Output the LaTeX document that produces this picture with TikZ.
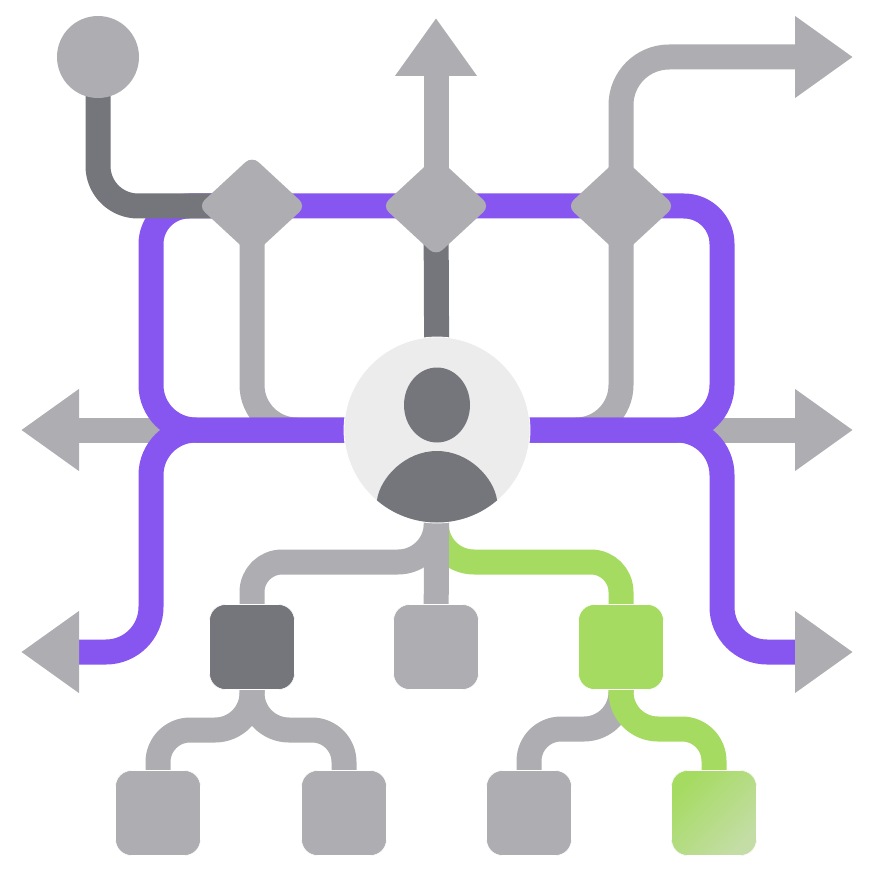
\documentclass[tikz,border=0pt]{standalone}
\usetikzlibrary{arrows.meta,backgrounds,shapes.geometric}
\definecolor{linegrey}{HTML}{AEAEB2}
\definecolor{linedark}{HTML}{75767C}
\definecolor{linepurple}{HTML}{8756F0}
\definecolor{linegreen}{HTML}{A5DB61}
\definecolor{fadegreen}{HTML}{C4DDA6}
\definecolor{hubgrey}{HTML}{ECECEC}
\tikzset{
  pipe/.style={line width=25pt,line join=round,rounded corners=#1},
  pipe/.default=45pt,
  tip/.style={-{Triangle[length=58pt,width=78pt]}},
  gatebox/.style={diamond,fill=linegrey,rounded corners=9pt,minimum width=108pt,minimum height=100pt,inner sep=0},
  leafbox/.style={rectangle,fill=linegrey,draw=white,line width=0.6pt,rounded corners=16pt,minimum size=85pt,inner sep=0},
}
\begin{document}
\begin{tikzpicture}[x=1pt,y=-1pt]
\useasboundingbox (0,0) rectangle (874,874);
\node[circle,fill=hubgrey,draw=white,line width=0.8pt,minimum size=186pt,inner sep=0] (hub) at (437,430) {};
\node[circle,fill=linegrey,minimum size=82pt,inner sep=0] (start) at (98,57) {};
\node[gatebox] (gatea) at (252,206) {};
\node[gatebox] (gateb) at (436,206) {};
\node[gatebox] (gatec) at (621,206) {};
\node[leafbox,fill=linedark] (boxa) at (252,647) {};
\node[leafbox] (boxb) at (436,647) {};
\node[leafbox,fill=linegreen] (boxc) at (621,647) {};
\node[leafbox] (leafa) at (158,813) {};
\node[leafbox] (leafb) at (344,813) {};
\node[leafbox] (leafc) at (529,813) {};
\node[leafbox,left color=linegreen,middle color=linegreen,right color=fadegreen,shading angle=45] (leafd) at (714,813) {};
\coordinate (midl) at (151,300);
\coordinate (midr) at (722,300);
\coordinate (lowl) at (151,652);
\coordinate (lowr) at (722,652);
\coordinate (tipll) at (21,652);
\coordinate (baseall) at (79,652);
\coordinate (tiplr) at (853,652);
\coordinate (baselr) at (795,652);
\coordinate (tipl) at (21,430);
\coordinate (tipr) at (853,430);
\coordinate (tipt) at (436,18);
\coordinate (tiptr) at (853,57);
\coordinate (splitg) at (436,562);
\coordinate (splita) at (252,730);
\coordinate (splitc) at (621,729);
\begin{scope}[on background layer]
\draw[pipe,linegrey,tip] (hub.center) -- (tipl);
\draw[pipe,linegrey,tip] (hub.center) -- (tipr);
\draw[pipe,linegrey] (gatea.center) |- (hub.center);
\draw[pipe,linegrey] (gatec.center) |- (hub.center);
\draw[pipe,linedark] (gateb.center) -- (hub.center);
\draw[pipe,linegrey,tip] (gateb.center) -- (tipt);
\draw[pipe=48pt,linegrey,tip] (gatec.center) |- (tiptr);
\draw[pipe,linepurple] (hub.center) -| (midl) [rounded corners=38pt] |- (gateb.center) -| (midr) [rounded corners=45pt] |- (hub.center);
\draw[pipe,linepurple] (hub.center) -| (lowl) [rounded corners=36pt] -- (baseall);
\draw[pipe,linepurple] (hub.center) -| (lowr) [rounded corners=36pt] -- (baselr);
\draw[pipe,linegrey,tip] (baseall) -- (tipll);
\draw[pipe,linegrey,tip] (baselr) -- (tiplr);
\draw[pipe=40pt,linedark] (start.center) |- (gatea.center);
\draw[pipe=38pt,linegreen] (hub.center) -- (splitg) [rounded corners=30pt] -| (boxc.center);
\draw[pipe=38pt,linegrey] (hub.center) -- (splitg) [rounded corners=30pt] -| (boxa.center);
\draw[pipe,linegrey] (hub.center) -- (boxb.center);
\draw[pipe=37pt,linegrey] (boxa.center) -- (splita) [rounded corners=32pt] -| (leafa.center);
\draw[pipe=37pt,linegrey] (boxa.center) -- (splita) [rounded corners=32pt] -| (leafb.center);
\draw[pipe=37pt,linegrey] (boxc.center) -- (splitc) [rounded corners=32pt] -| (leafc.center);
\draw[pipe=37pt,linegreen] (boxc.center) -- (splitc) [rounded corners=32pt] -| (leafd.center);
\end{scope}
\node[ellipse,fill=linedark,minimum width=66pt,minimum height=75pt,inner sep=0] (head) at (437,405) {};
\begin{scope}
\clip (hub.center) circle (92.5pt);
\fill[linedark] (374,510) -- (377,500) .. controls (380,478) and (405,451) .. (437,451) .. controls (469,451) and (494,478) .. (497,500) -- (500,510) -- (500,530) -- (374,530) -- cycle;
\end{scope}
\end{tikzpicture}
\end{document}
